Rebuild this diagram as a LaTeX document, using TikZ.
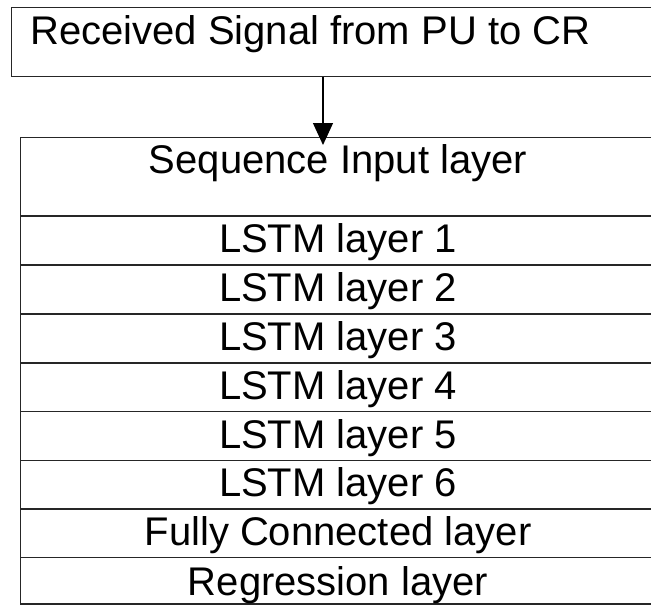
\documentclass[tikz,border=0pt]{standalone}
\usepackage{fontspec}
\setmainfont{Liberation Sans}
\usetikzlibrary{arrows.meta}
\begin{document}
\begin{tikzpicture}[x=1pt,y=-1pt,
  frame/.style={draw=black!85, line width=1.4pt, anchor=north west, inner sep=0pt, minimum width=640pt},
  lbl/.style={anchor=base, inner sep=0pt, font=\fontsize{40}{48}\selectfont},
  conn/.style={draw=black, line width=1.3pt, -{Triangle[width=20pt,length=22pt]}}]
\useasboundingbox (0,0) rectangle (651,605);
\clip (0,0) rectangle (651,605);
% source box
\node[frame, minimum width=700pt, minimum height=69pt] (src) at (11,7) {};
\node[anchor=base west, inner sep=0pt, font=\fontsize{40}{48}\selectfont] (srct) at (30,44) {Received Signal from PU to CR};
% layer stack
\node[frame, minimum height=78.3pt] (seq) at (20,137) {};
\node[frame, minimum height=49pt] (l1) at (20,215.3) {};
\node[frame, minimum height=49pt] (l2) at (20,264.3) {};
\node[frame, minimum height=49pt] (l3) at (20,313.3) {};
\node[frame, minimum height=48.7pt] (l4) at (20,362.3) {};
\node[frame, minimum height=48.5pt] (l5) at (20,411) {};
\node[frame, minimum height=48.8pt] (l6) at (20,459.5) {};
\node[frame, minimum height=48.7pt] (fc) at (20,508.3) {};
\node[frame, minimum height=46.3pt] (rg) at (20,557) {};
\node[lbl] (seqt) at (338,173) {Sequence Input layer};
\node[lbl] (l1t) at (338,252.3) {LSTM layer 1};
\node[lbl] (l2t) at (338,301.3) {LSTM layer 2};
\node[lbl] (l3t) at (338,350.3) {LSTM layer 3};
\node[lbl] (l4t) at (338,399.3) {LSTM layer 4};
\node[lbl] (l5t) at (338,448) {LSTM layer 5};
\node[lbl] (l6t) at (338,496.5) {LSTM layer 6};
\node[lbl] (fct) at (338,545.7) {Fully Connected layer};
\node[lbl] (rgt) at (338,595) {Regression layer};
% connector
\coordinate (tip) at (323,145);
\draw[conn] (tip |- src.south) -- (tip);
\end{tikzpicture}
\end{document}
